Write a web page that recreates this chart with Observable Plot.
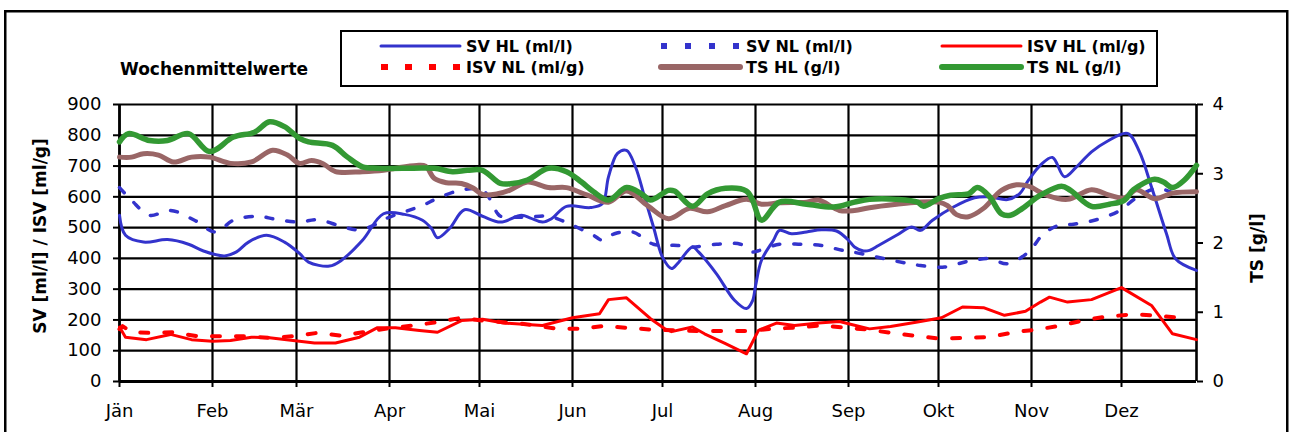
<!DOCTYPE html>
<html><head><meta charset="utf-8">
<script src="https://cdn.jsdelivr.net/npm/d3@7"></script>
<script src="https://cdn.jsdelivr.net/npm/@observablehq/plot@0.6"></script>
<style>
body{margin:0;background:#fff;}
#wrap{position:relative;width:1290px;height:432px;overflow:hidden;background:#fff;font-family:"DejaVu Sans",sans-serif;}
#chart{position:absolute;left:0;top:0;}
#over{position:absolute;left:0;top:0;}
</style>
</head><body>
<div id="wrap"><div id="chart"></div>
<svg id="over" width="1290" height="432" font-family="DejaVu Sans" font-weight="bold">
  <rect x="5.25" y="11.25" width="1282" height="440" fill="none" stroke="#000" stroke-width="2.5"/>
  <text x="120" y="69" font-size="17" dominant-baseline="central">Wochenmittelwerte</text>
  <rect x="341" y="31" width="816" height="55" fill="#fff" stroke="#000" stroke-width="2"/>
  <g id="legend" font-size="16"></g>
  <text transform="translate(40,236) rotate(-90)" text-anchor="middle" dominant-baseline="central" font-size="17">SV [ml/l] / ISV [ml/g]</text>
  <text transform="translate(1257,248) rotate(-90)" text-anchor="middle" dominant-baseline="central" font-size="17">TS [g/l]</text>
</svg>
</div>
<script>
// ---- data: [day of year (0 = 1 Jan), value] ----
const monthLabels = ["Jän","Feb","Mär","Apr","Mai","Jun","Jul","Aug","Sep","Okt","Nov","Dez"];
const yTicks = [0,100,200,300,400,500,600,700,800,900];
const tsTicks = [0,1,2,3,4];

const svHL = [[0,540],[2,475],[8,453],[16,461],[23,446],[28,424],[35,408],[39,421],[43,453],[49,475],[55,453],[60,416],[63,388],[70,375],[74,394],[81,459],[88,545],[95,543],[101,524],[104,497],[106,467],[110,497],[115,558],[121,537],[127,518],[134,540],[137,531],[141,518],[144,529],[149,569],[157,565],[161,578],[163,665],[166,741],[169,751],[172,697],[175,600],[178,502],[181,404],[184,367],[186,383],[191,437],[193,421],[199,350],[205,264],[209,237],[211,262],[212,310],[214,394],[218,459],[220,491],[224,480],[229,486],[234,493],[239,489],[243,459],[245,437],[248,424],[250,426],[253,442],[259,475],[264,502],[267,491],[271,524],[278,567],[285,597],[290,600],[296,591],[300,610],[303,654],[307,703],[311,728],[315,665],[319,697],[324,746],[329,779],[336,806],[340,746],[344,632],[349,480],[352,399],[359,361]];

const svNL = [[0,630],[4,589],[10,540],[17,556],[25,524],[32,486],[38,524],[46,537],[52,527],[60,518],[66,526],[74,504],[80,493],[87,518],[89,530],[101,572],[106,595],[114,622],[121,622],[126,546],[127,537],[136,534],[143,537],[150,512],[158,475],[161,459],[165,480],[171,486],[178,446],[186,442],[191,437],[199,446],[207,446],[211,421],[213,425],[220,446],[227,446],[234,442],[241,426],[247,416],[255,399],[263,383],[267,377],[275,372],[283,391],[290,399],[296,383],[303,421],[308,480],[313,507],[318,511],[325,524],[333,553],[339,597],[346,627],[354,600]];

const isvHL = [[0,177],[2,144],[9,136],[17,153],[24,136],[31,131],[37,133],[44,144],[50,142],[60,131],[65,125],[72,125],[80,144],[86,175],[92,175],[100,166],[106,160],[114,198],[121,202],[128,190],[141,182],[151,207],[160,220],[163,266],[169,272],[177,204],[182,170],[184,162],[191,177],[195,155],[202,123],[209,90],[213,166],[219,190],[225,182],[233,190],[240,195],[244,185],[250,171],[257,179],[266,193],[274,207],[281,242],[288,240],[295,215],[302,228],[307,258],[310,274],[316,258],[324,266],[334,305],[344,247],[351,155],[359,136]];

const isvNL = [[0,170],[1,180],[4,160],[10,158],[18,160],[26,147],[34,147],[42,147],[50,142],[58,147],[66,158],[74,149],[81,160],[90,173],[98,182],[106,193],[114,207],[121,198],[134,188],[146,171],[154,171],[161,180],[170,174],[178,168],[186,166],[193,164],[202,164],[209,164],[217,171],[225,175],[234,182],[242,175],[250,168],[258,157],[266,147],[274,139],[281,142],[290,144],[298,160],[306,169],[314,182],[321,198],[329,211],[338,218],[345,215],[353,207]];

// TS in g/l (right axis)
const tsHL = [[0,3.24],[4,3.24],[8,3.29],[13,3.27],[18,3.17],[24,3.24],[30,3.24],[37,3.15],[44,3.17],[51,3.34],[56,3.27],[60,3.15],[64,3.19],[68,3.14],[72,3.03],[81,3.03],[88,3.05],[92,3.08],[99,3.12],[102,3.11],[105,2.93],[109,2.87],[114,2.86],[118,2.79],[121,2.70],[126,2.71],[130,2.76],[136,2.88],[143,2.80],[149,2.80],[156,2.69],[163,2.59],[169,2.75],[176,2.54],[183,2.35],[190,2.50],[196,2.45],[202,2.54],[209,2.63],[214,2.56],[220,2.58],[229,2.59],[233,2.62],[240,2.47],[245,2.47],[250,2.51],[259,2.56],[266,2.59],[273,2.59],[276,2.54],[279,2.41],[283,2.38],[288,2.50],[294,2.76],[299,2.84],[303,2.82],[309,2.69],[316,2.63],[324,2.77],[330,2.69],[335,2.65],[339,2.77],[345,2.64],[351,2.72],[359,2.74]];

const tsNL = [[0,3.46],[3,3.58],[10,3.48],[16,3.48],[23,3.58],[30,3.32],[38,3.53],[45,3.60],[50,3.75],[55,3.68],[60,3.51],[63,3.46],[71,3.41],[76,3.24],[81,3.10],[86,3.08],[98,3.08],[105,3.08],[111,3.03],[116,3.05],[121,3.05],[127,2.86],[131,2.86],[136,2.91],[143,3.08],[149,3.03],[154,2.88],[158,2.74],[163,2.62],[169,2.80],[174,2.71],[177,2.62],[183,2.76],[185,2.75],[191,2.53],[196,2.71],[202,2.79],[209,2.75],[211,2.62],[214,2.33],[220,2.59],[229,2.56],[238,2.52],[245,2.59],[250,2.63],[259,2.63],[266,2.59],[268,2.53],[273,2.64],[277,2.69],[283,2.71],[286,2.80],[290,2.67],[294,2.42],[297,2.40],[301,2.50],[307,2.69],[314,2.82],[317,2.76],[324,2.53],[330,2.56],[335,2.62],[338,2.77],[345,2.92],[348,2.88],[351,2.80],[355,2.91],[359,3.12]];

// ---- chart ----
const base = Date.UTC(2009, 0, 1);
const t = d => new Date(base + d * 864e5);
const lastDay = 359;
const tsRatio = 900 / 4; // left axis max / right axis max
const monthDates = d3.utcMonth.range(t(0), t(lastDay));

const BLUE = "#3333cc", RED = "#ff0000", BROWN = "#996666", GREEN = "#339933";

const line = (data, opts, scale = 1) => Plot.line(data, {x: d => t(d[0]), y: d => d[1] * scale, ...opts});

const chart = Plot.plot({
  width: 1290, height: 432,
  marginLeft: 119, marginRight: 94, marginTop: 104, marginBottom: 51,
  style: {fontFamily: "DejaVu Sans", fontSize: "18px", color: "#000", background: "transparent"},
  x: {type: "utc", domain: [t(0), t(lastDay)]},
  y: {domain: [0, 900]},
  marks: [
    Plot.ruleY(yTicks, {stroke: "#000", strokeWidth: 2.2}),
    Plot.ruleX(monthDates, {stroke: "#000", strokeWidth: 2.2}),
    Plot.axisY(yTicks, {tickSize: 6, tickPadding: 12, fontSize: 18, strokeWidth: 2, label: null}),
    Plot.axisY(tsTicks.map(v => v * tsRatio), {anchor: "right", tickFormat: d => d / tsRatio, tickSize: 6, tickPadding: 10, fontSize: 18, strokeWidth: 2, label: null}),
    Plot.axisX(monthDates, {tickFormat: d => monthLabels[d.getUTCMonth()], tickSize: 6, tickPadding: 17, fontSize: 18, strokeWidth: 2, label: null}),
    Plot.ruleX([t(0)], {stroke: "#000", strokeWidth: 2.6}),
    Plot.ruleX([t(lastDay)], {stroke: "#000", strokeWidth: 2.6}),
    Plot.ruleY([0], {stroke: "#000", strokeWidth: 3}),
    line(svHL, {stroke: BLUE, strokeWidth: 3, curve: "catmull-rom"}),
    line(svNL, {stroke: BLUE, strokeWidth: 3.5, strokeDasharray: "7,14", curve: "catmull-rom"}),
    line(isvHL, {stroke: RED, strokeWidth: 3}),
    line(isvNL, {stroke: RED, strokeWidth: 4, strokeDasharray: "8,16"}),
    line(tsHL, {stroke: BROWN, strokeWidth: 5, curve: "catmull-rom"}, tsRatio),
    line(tsNL, {stroke: GREEN, strokeWidth: 5.5, curve: "catmull-rom"}, tsRatio)
  ]
});
document.getElementById("chart").appendChild(chart);

// ---- legend ----
const legendItems = [
  {label: "SV HL (ml/l)", color: BLUE, w: 3, dash: null},
  {label: "SV NL (ml/l)", color: BLUE, w: 6, dash: "6,18"},
  {label: "ISV HL (ml/g)", color: RED, w: 3, dash: null},
  {label: "ISV NL (ml/g)", color: RED, w: 6, dash: "7,17"},
  {label: "TS HL (g/l)", color: BROWN, w: 6, dash: null},
  {label: "TS NL (g/l)", color: GREEN, w: 6, dash: null}
];
const colX = [381, 661, 942], rowY = [46, 67];
const g = d3.select("#legend");
legendItems.forEach((it, i) => {
  const cx = colX[i % 3], cy = rowY[Math.floor(i / 3)];
  g.append("line").attr("x1", cx).attr("x2", cx + 79).attr("y1", cy).attr("y2", cy)
    .attr("stroke", it.color).attr("stroke-width", it.w)
    .attr("stroke-linecap", it.dash ? "butt" : "round")
    .attr("stroke-dasharray", it.dash);
  g.append("text").attr("x", cx + 85).attr("y", cy).attr("dominant-baseline", "central").text(it.label);
});
</script>
</body></html>
